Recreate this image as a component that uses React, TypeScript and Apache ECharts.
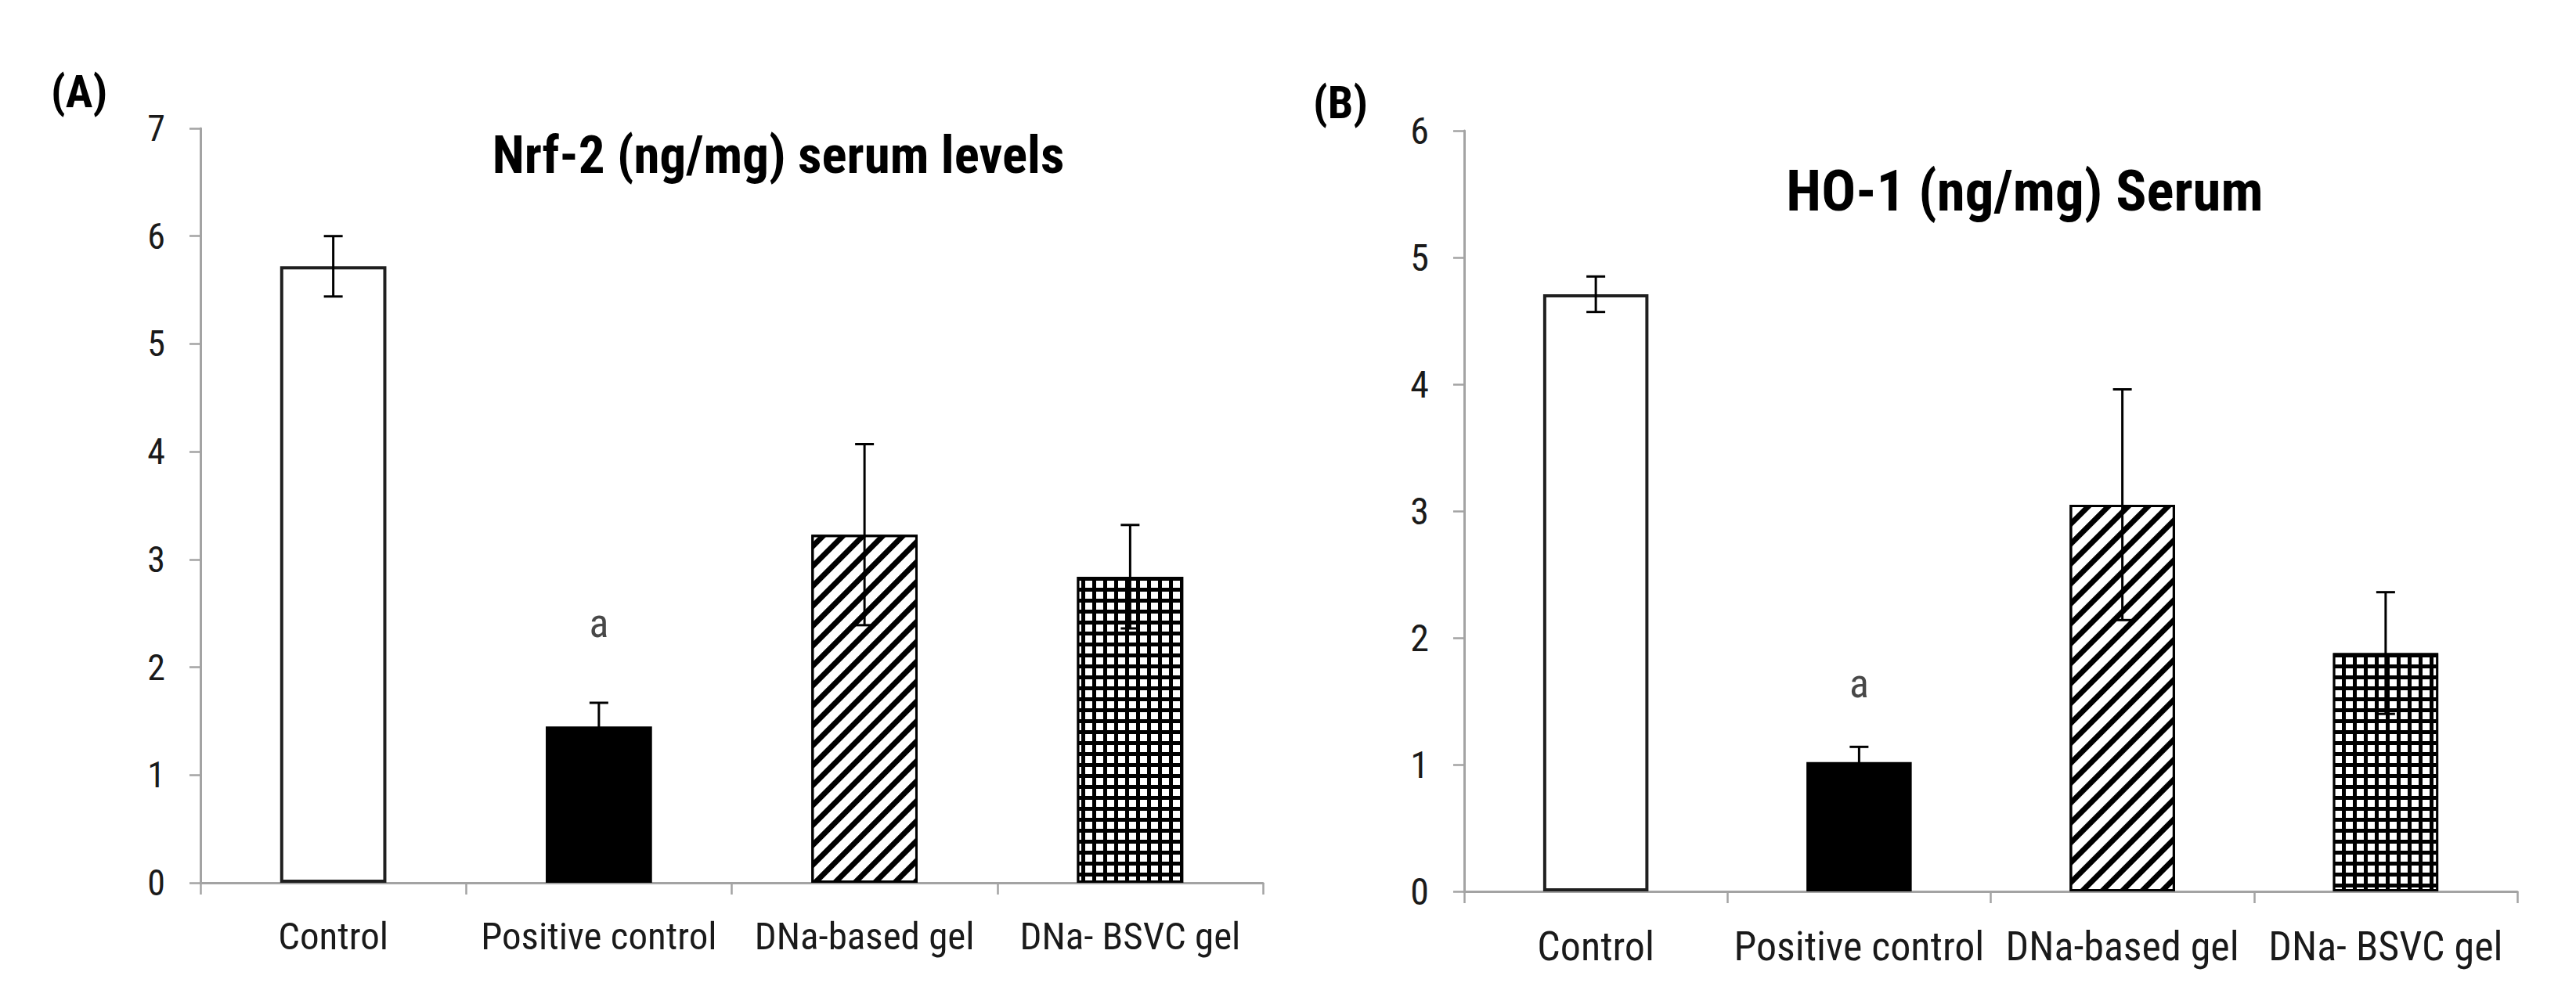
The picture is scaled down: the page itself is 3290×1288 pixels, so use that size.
import React, { useEffect, useRef } from "react";
import * as echarts from "echarts";

// ---------- data ----------
const categories = ["Control", "Positive control", "DNa-based gel", "DNa- BSVC gel"];

const nrf2Means = [5.72, 1.45, 3.23, 2.84];
const nrf2Errors = [0.28, 0.22, 0.84, 0.48];
const nrf2Max = 7;
const nrf2Letters = ["", "a", "", ""];
const nrf2LetterY = [0, 2.41, 0, 0];

const ho1Means = [4.71, 1.02, 3.05, 1.88];
const ho1Errors = [0.14, 0.12, 0.91, 0.48];
const ho1Max = 6;
const ho1Letters = ["", "a", "", ""];
const ho1LetterY = [0, 1.64, 0, 0];

const panelLetters = ["(A)", "(B)"];
const panelTitles = ["Nrf-2 (ng/mg) serum levels", "HO-1 (ng/mg) Serum"];

// fill kinds per category
const fillKinds = ["white", "black", "hatch", "grid"];

const FONT = "'Liberation Sans Narrow', 'Arial Narrow', 'Roboto Condensed', Lato, sans-serif";
const AXIS_GRAY = "#a3a3a3";

function itemStyleFor(kind: string) {
  if (kind === "white") {
    return { color: "#ffffff", borderColor: "#1f1f1f", borderWidth: 4 };
  }
  if (kind === "black") {
    return { color: "#000000", borderColor: "#000000", borderWidth: 2 };
  }
  if (kind === "hatch") {
    return {
      color: "#ffffff",
      borderColor: "#000000",
      borderWidth: 3,
      decal: {
        symbol: "rect",
        symbolSize: 1,
        color: "#000000",
        dashArrayX: [1, 0],
        dashArrayY: [7, 11],
        rotation: -Math.PI / 4,
      },
    };
  }
  return {
    color: "#000000",
    borderColor: "#000000",
    borderWidth: 3,
    decal: {
      symbol: "rect",
      symbolSize: 1,
      color: "#ffffff",
      dashArrayX: [9, 5],
      dashArrayY: [9, 5],
      rotation: 0,
    },
  };
}

function errorRender(params: any, api: any) {
  const x = api.value(0);
  const m = api.value(1);
  const e = api.value(2);
  const top = api.coord([x, m + e]);
  const bot = api.coord([x, m - e]);
  const half = 12;
  const ls = { stroke: "#000000", lineWidth: 3 };
  return {
    type: "group",
    children: [
      { type: "line", shape: { x1: top[0], y1: top[1], x2: bot[0], y2: bot[1] }, style: ls },
      { type: "line", shape: { x1: top[0] - half, y1: top[1], x2: top[0] + half, y2: top[1] }, style: ls },
      { type: "line", shape: { x1: bot[0] - half, y1: bot[1], x2: bot[0] + half, y2: bot[1] }, style: ls },
    ],
  };
}

export default function App() {
  const ref = useRef<HTMLDivElement>(null);

  useEffect(() => {
    if (!ref.current) return;
    const chart = echarts.init(ref.current, null, { renderer: "svg" });

    const grids = [
      { left: 256, top: 164, width: 1357, height: 964 },
      { left: 1870, top: 167, width: 1345, height: 972 },
    ];
    const maxes = [nrf2Max, ho1Max];
    const means = [nrf2Means, ho1Means];
    const errs = [nrf2Errors, ho1Errors];
    const letters = [nrf2Letters, ho1Letters];
    const letterYs = [nrf2LetterY, ho1LetterY];
    const tickFont = [46, 48];
    const catFont = [49, 52];

    const xAxis = [0, 1].map((i) => ({
      type: "category",
      gridIndex: i,
      data: categories,
      boundaryGap: true,
      axisLine: { show: true, lineStyle: { color: AXIS_GRAY, width: 3 } },
      axisTick: { show: true, length: 15, alignWithLabel: false, lineStyle: { color: AXIS_GRAY, width: 2.5 } },
      axisLabel: {
        interval: 0,
        margin: 44,
        color: "#1a1a1a",
        fontFamily: FONT,
        fontSize: catFont[i],
      },
      splitLine: { show: false },
    }));

    const yAxis = [0, 1].map((i) => ({
      type: "value",
      gridIndex: i,
      min: 0,
      max: maxes[i],
      interval: 1,
      axisLine: { show: true, lineStyle: { color: AXIS_GRAY, width: 3 } },
      axisTick: { show: true, length: 14, lineStyle: { color: AXIS_GRAY, width: 2.5 } },
      axisLabel: { margin: 45, color: "#1a1a1a", fontFamily: FONT, fontSize: tickFont[i] },
      splitLine: { show: false },
    }));

    const series: any[] = [];
    [0, 1].forEach((i) => {
      series.push({
        type: "bar",
        xAxisIndex: i,
        yAxisIndex: i,
        barWidth: "40%",
        data: means[i].map((v, k) => ({ value: v, itemStyle: itemStyleFor(fillKinds[k]) })),
        z: 2,
      });
      series.push({
        type: "custom",
        xAxisIndex: i,
        yAxisIndex: i,
        renderItem: errorRender,
        data: means[i].map((v, k) => [k, v, errs[i][k]]),
        z: 5,
      });
      series.push({
        type: "scatter",
        xAxisIndex: i,
        yAxisIndex: i,
        symbolSize: 0,
        data: letters[i]
          .map((t, k) => ({ value: [k, letterYs[i][k]], name: t }))
          .filter((d) => d.name !== ""),
        label: {
          show: true,
          position: "inside",
          formatter: (p: any) => p.name,
          color: "#1a1a1a",
          fontFamily: FONT,
          fontSize: 52,
        },
        z: 6,
      });
    });

    const graphic: any[] = [
      {
        type: "text",
        x: 65,
        y: 117,
        style: { text: panelLetters[0], fontFamily: FONT, fontWeight: "bold", fontSize: 58, fill: "#000", align: "left", verticalAlign: "middle" },
      },
      {
        type: "text",
        x: 1677,
        y: 131,
        style: { text: panelLetters[1], fontFamily: FONT, fontWeight: "bold", fontSize: 58, fill: "#000", align: "left", verticalAlign: "middle" },
      },
      {
        type: "text",
        x: 994,
        y: 198,
        style: { text: panelTitles[0], fontFamily: FONT, fontWeight: "bold", fontSize: 67, fill: "#000", align: "center", verticalAlign: "middle" },
      },
      {
        type: "text",
        x: 2586,
        y: 244,
        style: { text: panelTitles[1], fontFamily: FONT, fontWeight: "bold", fontSize: 73, fill: "#000", align: "center", verticalAlign: "middle" },
      },
    ];

    chart.setOption({
      animation: false,
      backgroundColor: "#ffffff",
      grid: grids,
      xAxis,
      yAxis,
      series,
      graphic,
    });

    return () => chart.dispose();
  }, []);

  return (
    <div
      ref={ref}
      style={{ position: "absolute", left: 0, top: 0, width: 3290, height: 1288, background: "#fff" }}
    />
  );
}
